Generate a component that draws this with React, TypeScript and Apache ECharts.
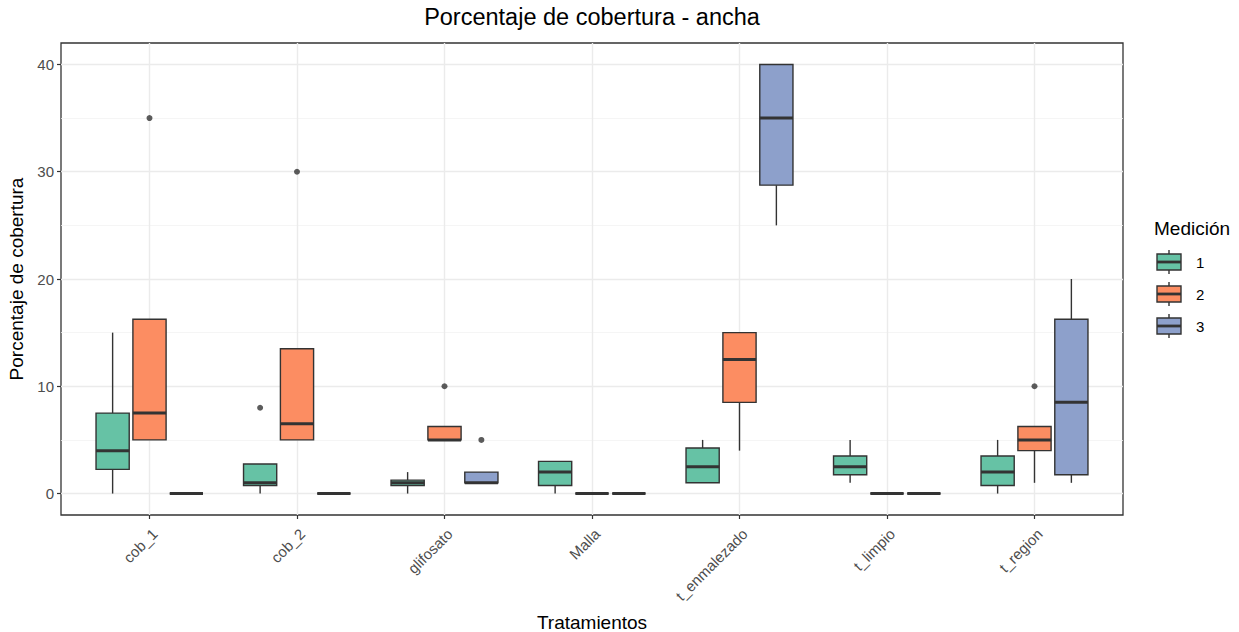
import React, { useEffect, useRef } from "react";
import * as echarts from "echarts";

const categories = ["cob_1", "cob_2", "glifosato", "Malla", "t_enmalezado", "t_limpio", "t_region"];
const groupNames = ["1", "2", "3"];
const groupColors = ["#66C2A5", "#FC8D62", "#8DA0CB"];

// [min, q1, median, q3, max] per category (order of `categories`)
const medicion1 = [
  [0, 2.25, 4, 7.5, 15],
  [0, 0.75, 1, 2.75, 2.75],
  [0, 0.75, 1, 1.25, 2],
  [0, 0.75, 2, 3, 3],
  [1, 1, 2.5, 4.25, 5],
  [1, 1.75, 2.5, 3.5, 5],
  [0, 0.75, 2, 3.5, 5],
];
const medicion2 = [
  [5, 5, 7.5, 16.25, 16.25],
  [5, 5, 6.5, 13.5, 13.5],
  [5, 5, 5, 6.25, 6.25],
  [0, 0, 0, 0, 0],
  [4, 8.5, 12.5, 15, 15],
  [0, 0, 0, 0, 0],
  [1, 4, 5, 6.25, 6.25],
];
const medicion3 = [
  [0, 0, 0, 0, 0],
  [0, 0, 0, 0, 0],
  [1, 1, 1, 2, 2],
  [0, 0, 0, 0, 0],
  [25, 28.75, 35, 40, 40],
  [0, 0, 0, 0, 0],
  [1, 1.75, 8.5, 16.25, 20],
];
// [categoryIndex, value]
const outliers1 = [[1, 8]];
const outliers2 = [[0, 35], [1, 30], [2, 10], [6, 10]];
const outliers3 = [[2, 5]];

const yTicks = [0, 10, 20, 30, 40];
const yMinorTicks = [5, 15, 25, 35];
const xTicks = categories.map((_, i) => i + 1);

const boxStats = [medicion1, medicion2, medicion3];
const outlierSets = [outliers1, outliers2, outliers3];

const DODGE = [-0.25, 0, 0.25];
const HALF_BOX = 0.1125;
const INK = "#333333";
const FONT = "Liberation Sans, Arial, sans-serif";

export default function App() {
  const ref = useRef<HTMLDivElement>(null);

  useEffect(() => {
    if (!ref.current) return;
    const chart = echarts.init(ref.current, null, { renderer: "svg" });

    const boxSeries = boxStats.map((stats, g) => ({
      type: "custom",
      name: groupNames[g],
      xAxisIndex: 0,
      yAxisIndex: 0,
      z: 3,
      encode: { x: 0, y: [1, 2, 3, 4, 5] },
      data: stats.map((s, i) => [i, ...s]),
      renderItem: (params: any, api: any) => {
        const cx = api.value(0) + 1 + DODGE[g];
        const px = api.coord([cx, 0])[0];
        const left = api.coord([cx - HALF_BOX, 0])[0];
        const right = api.coord([cx + HALF_BOX, 0])[0];
        const yMin = api.coord([cx, api.value(1)])[1];
        const yQ1 = api.coord([cx, api.value(2)])[1];
        const yMed = api.coord([cx, api.value(3)])[1];
        const yQ3 = api.coord([cx, api.value(4)])[1];
        const yMax = api.coord([cx, api.value(5)])[1];
        return {
          type: "group",
          children: [
            { type: "line", shape: { x1: px, y1: yMax, x2: px, y2: yQ3 }, style: { stroke: INK, lineWidth: 1.4 } },
            { type: "line", shape: { x1: px, y1: yQ1, x2: px, y2: yMin }, style: { stroke: INK, lineWidth: 1.4 } },
            {
              type: "rect",
              shape: { x: left, y: yQ3, width: right - left, height: yQ1 - yQ3 },
              style: { fill: groupColors[g], stroke: INK, lineWidth: 1.4 },
            },
            { type: "line", shape: { x1: left, y1: yMed, x2: right, y2: yMed }, style: { stroke: INK, lineWidth: 3 } },
          ],
        };
      },
    }));

    const outlierSeries = outlierSets.map((set, g) => ({
      type: "scatter",
      name: "out" + groupNames[g],
      xAxisIndex: 0,
      yAxisIndex: 0,
      z: 4,
      symbol: "circle",
      symbolSize: 6,
      itemStyle: { color: INK },
      data: set.map(([c, v]) => [c + 1 + DODGE[g], v]),
    }));

    const legendGraphics: any[] = [
      {
        type: "text",
        x: 1154,
        y: 228,
        style: { text: "Medición", fontSize: 19, fontFamily: FONT, fill: "#000", verticalAlign: "middle", align: "left" },
      },
    ];
    groupNames.forEach((name, g) => {
      const c = 262 + 32 * g;
      legendGraphics.push(
        { type: "line", shape: { x1: 1169, y1: c - 12, x2: 1169, y2: c + 12 }, style: { stroke: INK, lineWidth: 1.4 } },
        {
          type: "rect",
          shape: { x: 1157, y: c - 8, width: 24, height: 16 },
          style: { fill: groupColors[g], stroke: INK, lineWidth: 1.4 },
        },
        { type: "line", shape: { x1: 1157, y1: c, x2: 1181, y2: c }, style: { stroke: INK, lineWidth: 2.8 } },
        {
          type: "text",
          x: 1196,
          y: c,
          style: { text: name, fontSize: 15, fontFamily: FONT, fill: "#000", verticalAlign: "middle", align: "left" },
        }
      );
    });

    const option: any = {
      animation: false,
      backgroundColor: "#FFFFFF",
      textStyle: { fontFamily: FONT },
      title: {
        text: "Porcentaje de cobertura - ancha",
        left: 592,
        top: 5,
        textAlign: "center",
        padding: 0,
        textStyle: { fontSize: 23.5, fontWeight: "normal", color: "#000", fontFamily: FONT },
      },
      grid: {
        left: 61,
        top: 43,
        width: 1062,
        height: 472,
        show: true,
        borderColor: INK,
        borderWidth: 1.3,
        backgroundColor: "transparent",
        containLabel: false,
        outerBoundsMode: "none",
      },
      xAxis: [
        {
          type: "value",
          min: 0.4,
          max: 7.6,
          name: "Tratamientos",
          nameLocation: "middle",
          nameGap: 98,
          nameTextStyle: { fontSize: 19, color: "#000", fontFamily: FONT },
          axisLine: { show: false, onZero: false },
          axisTick: { show: true, customValues: xTicks, length: 4, lineStyle: { color: INK, width: 1.2 } },
          axisLabel: {
            customValues: xTicks,
            rotate: 45,
            align: "right",
            verticalAlign: "top",
            margin: 11,
            fontSize: 15,
            color: "#4D4D4D",
            fontFamily: FONT,
            formatter: (v: number) => categories[Math.round(v) - 1] ?? "",
          },
          splitLine: { show: true, lineStyle: { color: "#EBEBEB", width: 1.4 } },
        },
      ],
      yAxis: [
        {
          type: "value",
          min: -2,
          max: 42,
          name: "Porcentaje de cobertura",
          nameLocation: "middle",
          nameGap: 31,
          nameTextStyle: { fontSize: 19, color: "#000", fontFamily: FONT },
          axisLine: { show: false, onZero: false },
          axisTick: { show: true, customValues: yTicks, length: 4, lineStyle: { color: INK, width: 1.2 } },
          axisLabel: { customValues: yTicks, margin: 7, fontSize: 15, color: "#4D4D4D", fontFamily: FONT },
          splitLine: { show: true, lineStyle: { color: "#EBEBEB", width: 1.4 } },
        },
        {
          type: "value",
          min: -2,
          max: 42,
          position: "left",
          axisLine: { show: false, onZero: false },
          axisTick: { show: false, customValues: yMinorTicks },
          axisLabel: { show: false, customValues: yMinorTicks },
          splitLine: { show: true, lineStyle: { color: "#F2F2F2", width: 0.8 } },
        },
      ],
      graphic: legendGraphics,
      series: [...boxSeries, ...outlierSeries],
    };

    chart.setOption(option);
    return () => chart.dispose();
  }, []);

  return (
    <div
      ref={ref}
      style={{ position: "fixed", left: 0, top: 0, width: 1239, height: 632, background: "#fff" }}
    />
  );
}
